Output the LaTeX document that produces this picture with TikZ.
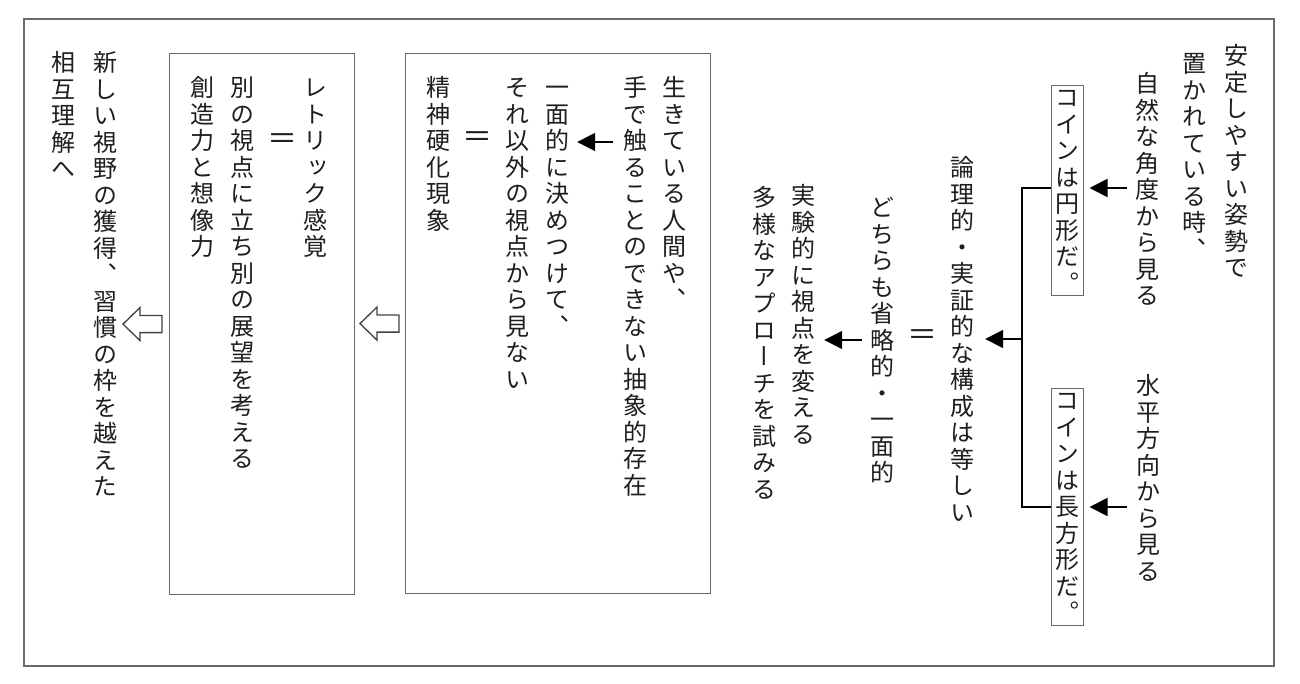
\documentclass[tikz,border=0pt]{standalone}
\usepackage{fontspec}
\usepackage{tikz}
\usetikzlibrary{arrows.meta,calc}
\newfontfamily\tatefont[RawFeature=+vert]{Noto Sans CJK JP}
\newfontfamily\yokofont{Noto Sans CJK JP}
\definecolor{waku}{RGB}{105,105,105}
\definecolor{moji}{RGB}{30,30,30}
\makeatletter
\newcommand{\tate}[1]{\vbox{\offinterlineskip
  \@tfor\tatech:=#1\do{\hbox to 24pt{\vrule height 22.2pt depth 4.3pt width 0pt\hss\tatech\hss}}}}
\makeatother
\newcommand{\hollowarrow}[1]{
\draw[black!75, line width=1.3pt] (#1)--++(17,-16.5)--++(0,8)--++(22,0)--++(0,17)--++(-22,0)--++(0,8)--cycle;
}
\tikzset{
  tatecol/.style={anchor=north, inner sep=0pt, text=moji, font=\tatefont\fontsize{24}{26.5}\selectfont},
  coin/.style={tatecol, draw=waku, line width=1pt, inner xsep=4pt, inner ysep=-1pt},
  eqsign/.style={text=moji, inner sep=0pt, font=\yokofont\fontsize{30}{30}\selectfont},
  sarrow/.style={line width=1.8pt, -{Triangle[length=18pt,width=18pt]}},
  hako/.style={draw=waku, line width=1.2pt, anchor=north west},
}
\begin{document}
\begin{tikzpicture}[x=1pt,y=-1pt]
\useasboundingbox (0,0) rectangle (1300,684);
\draw[waku, line width=1.2pt] (24,19) rectangle (1274,666);
% right side: two views of the coin
\node[tatecol] (antei) at (1236,42.5) {\tate{安定しやすい姿勢で}};
\node[tatecol] (okare) at (1194,50.5) {\tate{置かれている時、}};
\node[tatecol] (shizen) at (1147,70.5) {\tate{自然な角度から見る}};
\node[tatecol] (suihei) at (1148,372.5) {\tate{水平方向から見る}};
\node[coin] (en) at (1067,85) {\tate{コインは円形だ。}};
\node[coin] (chouhou) at (1067,388) {\tate{コインは長方形だ。}};
\node[tatecol] (ronri) at (962,154.5) {\tate{論理的・実証的な構成は等しい}};
\node[eqsign] (eq1) at (922,338) {＝};
\node[tatecol] (dochira) at (882,194.5) {\tate{どちらも省略的・一面的}};
\node[tatecol] (jikken) at (803,182.5) {\tate{実験的に視点を変える}};
\node[tatecol] (tayou) at (764,184.5) {\tate{多様なアプローチを試みる}};
% boxes
\node[hako, minimum width=305, minimum height=540] (hako1) at (405,53) {};
\node[hako, minimum width=185, minimum height=541] (hako2) at (169,53) {};
\node[tatecol] (ikite) at (674,74.5) {\tate{生きている人間や、}};
\node[tatecol] (te) at (635,74.5) {\tate{手で触ることのできない抽象的存在}};
\node[tatecol] (ichimen) at (557,74.5) {\tate{一面的に決めつけて、}};
\node[tatecol] (sore) at (517,74.5) {\tate{それ以外の視点から見ない}};
\node[eqsign] (eq2) at (477,140) {＝};
\node[tatecol] (seishin) at (438,74.5) {\tate{精神硬化現象}};
\node[tatecol] (retorikku) at (315,74.5) {\tate{レトリック感覚}};
\node[eqsign] (eq3) at (282,142) {＝};
\node[tatecol] (betsu) at (242,74.5) {\tate{別の視点に立ち別の展望を考える}};
\node[tatecol] (souzou) at (202,74.5) {\tate{創造力と想像力}};
\node[tatecol] (atarashii) at (105,49.5) {\tate{新しい視野の獲得、習慣の枠を越えた}};
\node[tatecol] (sougo) at (63,49.5) {\tate{相互理解へ}};
% connectors
\coordinate (y1) at (0,188);
\coordinate (y4) at (0,507);
\coordinate (br) at (1022,339);
\draw[sarrow, shorten <=8pt, shorten >=6pt] (shizen.west |- y1) -- (en.east |- y1);
\draw[sarrow, shorten <=9pt, shorten >=6pt] (suihei.west |- y4) -- (chouhou.east |- y4);
\draw[line width=1.8pt] (en.west |- y1) -| (br) |- (chouhou.west |- y4);
\draw[sarrow, shorten >=11pt] (br) -- (br -| ronri.east);
\coordinate (y2) at (0,340);
\draw[sarrow, shorten <=8pt, shorten >=9pt] (dochira.west |- y2) -- (jikken.east |- y2);
\coordinate (y3) at (0,142);
\draw[sarrow, shorten <=10pt, shorten >=8pt] (te.west |- y3) -- (ichimen.east |- y3);
\hollowarrow{$(hako1.west)+(-45,0)$}
\hollowarrow{$(hako2.west)+(-46,0)$}
\end{tikzpicture}
\end{document}
